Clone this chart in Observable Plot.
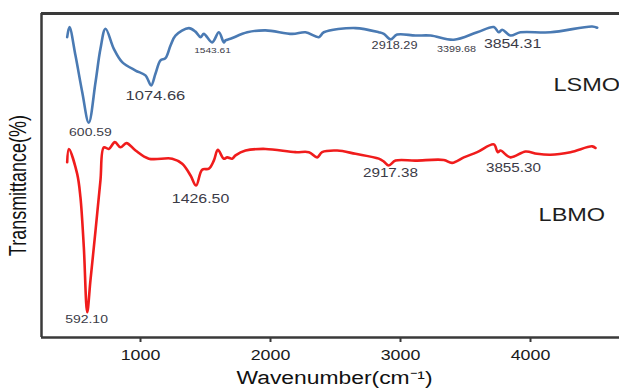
<!DOCTYPE html>
<html>
<head>
<meta charset="utf-8">
<script src="https://cdn.jsdelivr.net/npm/d3@7"></script>
<script src="https://cdn.jsdelivr.net/npm/@observablehq/plot@0.6"></script>
<style>
  html, body { margin: 0; padding: 0; background: #fff; }
  #chart { width: 619px; height: 390px; overflow: hidden; }
</style>
</head>
<body>
<div id="chart"></div>
<script>
// ---- Data ----
// LSMO spectrum: wavenumber (cm^-1) and transmittance (arbitrary %)
const lsmoWn = [436, 454, 500, 552, 602, 654, 692, 731, 795, 859, 962, 1038, 1082, 1115, 1154, 1192, 1231, 1269, 1372, 1423, 1462, 1487, 1551, 1603, 1641, 1654, 1692, 1821, 1962, 2167, 2269, 2372, 2410, 2654, 2833, 2872, 2923, 2974, 3115, 3231, 3410, 3590, 3718, 3756, 3782, 3846, 3923, 4154, 4474, 4513];
const lsmoT  = [92.7, 95.8, 87.0, 75.7, 66.3, 78.8, 89.1, 95.3, 89.1, 85.0, 82.4, 80.9, 77.8, 81.4, 85.5, 86.2, 90.1, 93.2, 95.5, 94.4, 92.7, 93.7, 91.1, 94.2, 91.1, 91.7, 92.2, 94.2, 94.8, 93.7, 94.2, 92.7, 94.2, 95.5, 94.2, 93.7, 92.0, 93.5, 93.2, 93.2, 91.9, 94.2, 95.8, 94.2, 95.0, 93.2, 94.2, 94.2, 96.0, 95.6];

// LBMO spectrum
const lbmoWn = [436, 449, 513, 538, 564, 590, 615, 654, 692, 718, 756, 803, 846, 892, 962, 1064, 1244, 1321, 1385, 1428, 1474, 1526, 1564, 1595, 1641, 1667, 1705, 1731, 1808, 1962, 2192, 2295, 2359, 2397, 2513, 2654, 2833, 2872, 2910, 2962, 3115, 3333, 3397, 3487, 3590, 3718, 3748, 3769, 3846, 3962, 4051, 4154, 4308, 4474, 4500];
const lbmoT  = [54.1, 58.2, 50.5, 43.3, 27.9, 7.8, 17.6, 33.0, 48.5, 58.7, 58.2, 60.3, 58.7, 60.0, 57.7, 55.2, 55.2, 53.6, 50.0, 46.9, 51.8, 52.1, 54.6, 57.9, 55.2, 55.6, 55.2, 56.2, 57.7, 58.2, 57.2, 57.2, 55.6, 57.2, 57.7, 56.7, 55.2, 54.3, 53.1, 54.6, 54.6, 54.8, 53.9, 55.6, 57.2, 59.6, 57.2, 57.7, 55.6, 57.4, 56.7, 56.4, 57.2, 59.0, 58.5];

// Peak annotations (text, anchor wavenumber, anchor transmittance)
const peakText = ["600.59", "1074.66", "1543.61", "2918.29", "3399.68", "3854.31", "592.10", "1426.50", "2917.38", "3855.30"];
const peakWn   = [615, 1115, 1554, 2954, 3431, 3862, 585, 1462, 2923, 3869];
const peakT    = [63.3, 74.7, 88.6, 90.1, 88.9, 90.7, 5.6, 42.6, 50.6, 52.2];

// Series names
const seriesNames = ["LSMO", "LBMO"];
const seriesNameWn = [4177, 4062];
const seriesNameT = [77.8, 37.7];

// Axis ticks and labels
const xTicks = [1000, 2000, 3000, 4000];
const xLabel = "Wavenumber(cm⁻¹)";
const yLabel = "Transmittance(%)";

// ---- Build tables ----
const lsmo = lsmoWn.map((w, i) => ({wn: w, t: lsmoT[i]}));
const lbmo = lbmoWn.map((w, i) => ({wn: w, t: lbmoT[i]}));
const peaks = peakText.map((s, i) => ({text: s, wn: peakWn[i], t: peakT[i]}));
const names = seriesNames.map((s, i) => ({text: s, wn: seriesNameWn[i], t: seriesNameT[i]}));
const peakSizes = {"600.59": 11, "1074.66": 13, "1543.61": 8, "2918.29": 10, "3399.68": 8.5, "3854.31": 12.5,
                   "592.10": 11, "1426.50": 12.5, "2917.38": 12, "3855.30": 12};

const xDomain = [238.5, 4684.6];
const frameColor = "#3a3a3a";
const labelColor = "#3b3b47";

const chart = Plot.plot({
  width: 619,
  height: 390,
  marginLeft: 41,
  marginRight: 0,
  marginTop: 13,
  marginBottom: 53,
  style: {fontFamily: "'Liberation Sans', Arial, sans-serif", background: "#fff", color: "#222"},
  x: {domain: xDomain},
  y: {domain: [0, 100], axis: null},
  marks: [
    Plot.axisX({ticks: xTicks, tickSize: 5, tickPadding: 8, fontSize: 14, label: null,
                tickFormat: d => String(d), stroke: frameColor, strokeWidth: 2, fill: "#1a1a1a"}),
    Plot.ruleY([100], {stroke: frameColor, strokeWidth: 3}),
    Plot.ruleY([0], {stroke: frameColor, strokeWidth: 2.5}),
    Plot.ruleX([xDomain[0]], {stroke: frameColor, strokeWidth: 2.5}),
    Plot.line(lsmo, {x: "wn", y: "t", stroke: "#4a7ab3", strokeWidth: 2.6, curve: "catmull-rom"}),
    Plot.line(lbmo, {x: "wn", y: "t", stroke: "#f01c1c", strokeWidth: 2.6, curve: "catmull-rom"}),
    ...peakText.map(s => Plot.text(peaks.filter(d => d.text === s), {
      x: "wn", y: "t", text: "text", fontSize: peakSizes[s], fill: labelColor, textAnchor: "middle"
    })),
    Plot.text(names, {x: "wn", y: "t", text: "text", fontSize: 18.5, fill: "#1e1e1e", textAnchor: "start"}),
    Plot.text([xLabel], {frameAnchor: "bottom", dy: 46, dx: 4, fontSize: 18, fill: "#111"}),
    Plot.text([yLabel], {x: () => xDomain[0], y: () => 46.9, dx: -23, rotate: -90, fontSize: 18, fill: "#111"})
  ]
});

document.getElementById("chart").appendChild(chart);

// Reproduce the horizontally stretched lettering of the reference
d3.select(chart).selectAll("text").each(function() {
  const el = this;
  const content = el.textContent;
  if (content === yLabel) {
    const tr = el.getAttribute("transform");
    if (tr && tr.includes("rotate")) el.setAttribute("transform", tr + " scale(1,1.3)");
    return;
  }
  const w = el.getComputedTextLength();
  if (w > 0) {
    el.setAttribute("textLength", (w * 1.27).toFixed(1));
    el.setAttribute("lengthAdjust", "spacingAndGlyphs");
  }
});
</script>
</body>
</html>
